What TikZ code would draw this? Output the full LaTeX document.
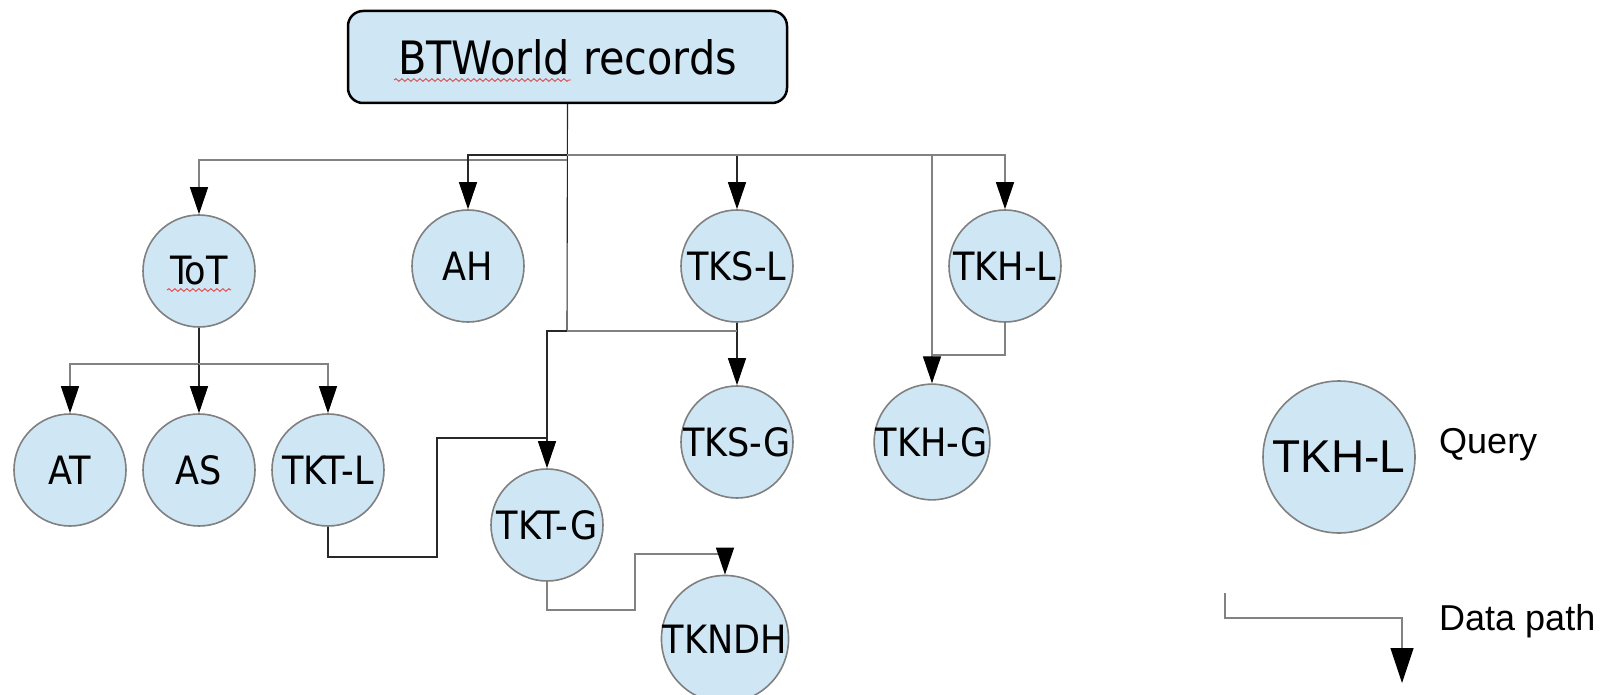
\documentclass[tikz,border=0pt]{standalone}
\usepackage{fontspec}
\setmainfont{Liberation Sans}
\newfontfamily\labelfont{DejaVu Sans Condensed}
\usetikzlibrary{arrows.meta,decorations.pathmorphing}
\definecolor{nodefill}{RGB}{207,230,244}
\definecolor{rimgray}{RGB}{128,128,128}
\definecolor{linkdark}{RGB}{40,40,40}
\definecolor{linkgray}{RGB}{130,130,130}
\definecolor{spellred}{RGB}{225,70,70}
\begin{document}
\begin{tikzpicture}[x=1pt,y=-1pt,
  query/.style={circle, fill=nodefill, draw=rimgray, line width=1.6pt,
    minimum size=112pt, inner sep=0pt,
    font=\labelfont\fontsize{39}{42}\selectfont},
  records/.style={rectangle, rounded corners=15pt, fill=nodefill, draw=black,
    line width=2.5pt, minimum width=439pt, minimum height=92pt,
    font=\labelfont\fontsize{46}{50}\selectfont},
  link/.style={draw=linkdark, line width=1.1pt},
  datalink/.style={draw=linkgray, line width=1.3pt},
  arrowend/.style={-{Triangle[length=27pt,width=18pt,color=black]}},
  squiggle/.style={draw=spellred, line width=0.9pt, decorate,
    decoration={snake, segment length=6pt, amplitude=1.3pt}}
]
\useasboundingbox (0,0) rectangle (1610,695);

% source record box
\node[records] (rec) at (567.5,57) {BTWorld records};

% queries
\node[query] (ToT)   at (199,271) {ToT};
\node[query] (AH)    at (468,266) {AH};
\node[query] (TKSL)  at (737,266) {TKS-L};
\node[query] (TKHL)  at (1005,266) {TKH-L};
\node[query] (AT)    at (70,470)  {AT};
\node[query] (AS)    at (199,470) {AS};
\node[query] (TKTL)  at (328,470) {TKT-L};
\node[query] (TKTG)  at (547,525) {TKT-G};
\node[query] (TKSG)  at (737,442) {TKS-G};
\node[query] (TKHG)  at (932,442) {TKH-G};
\node[query] (TKNDH) at (725,639) {TKNDH};

% spell-check marks under two words
\draw[squiggle] (394,80) -- (571,80);
\draw[squiggle] (167,290) -- (231,290);

% bus junctions
\coordinate (busT) at (567,160);
\coordinate (busA) at (567,155);
\coordinate (busM) at (567,331);
\coordinate (busC) at (199,364);
\coordinate (hjoin) at (932,355);
\coordinate (k1) at (437,557);
\coordinate (k2) at (437,438);
\coordinate (k3) at (635,610);
\coordinate (k4) at (635,554);

% from the records
\draw[link] (rec.south) -- (busM);
\draw[datalink,arrowend] (busT) -| (ToT.north);
\draw[link,arrowend] (busA) -| (AH.north);
\draw[link,arrowend] (busA) -| (TKSL.north);
\draw[datalink,arrowend] (busA) -| (TKHL.north);
\draw[datalink,arrowend] (busA -| TKHG.north) -- (TKHG.north);
\draw[link,arrowend] (busM) -| (TKTG.north);

% derived paths
\draw[datalink] (TKHL.south) |- (hjoin);
\draw[link,arrowend] (TKSL.south) -- (TKSG.north);
\draw[datalink] (TKSL.south |- busM) -- (busM);
\draw[link] (ToT.south) -- (busC);
\draw[datalink,arrowend] (busC) -| (AT.north);
\draw[link,arrowend] (busC) -- (AS.north);
\draw[datalink,arrowend] (busC) -| (TKTL.north);
\draw[link] (TKTL.south) |- (k1) -- (k2) -- (k2 -| TKTG.north);
\draw[datalink,arrowend] (TKTG.south) |- (k3) -- (k4) -| (TKNDH.north);

% legend
\node[query, minimum size=152pt, font=\fontsize{46}{50}\selectfont]
  (legq) at (1339,457) {TKH-L};
\node[anchor=base west, inner sep=0pt, font=\fontsize{36}{40}\selectfont]
  (qlabel) at (1439,453) {Query};
\coordinate (lg1) at (1225,593);
\coordinate (lg2) at (1402,618);
\coordinate (lg3) at (1402,683);
\draw[datalink, -{Triangle[length=35pt,width=23pt,color=black]}]
  (lg1) |- (lg2) -- (lg3);
\node[anchor=base west, inner sep=0pt, font=\fontsize{36}{40}\selectfont]
  (dlabel) at (1439,630) {Data path};
\end{tikzpicture}
\end{document}
